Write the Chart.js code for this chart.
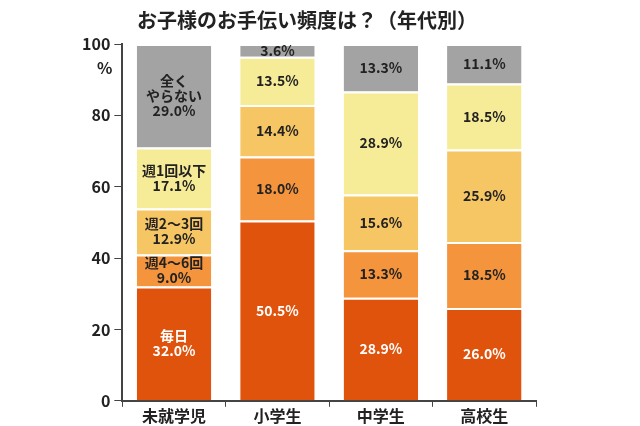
<!DOCTYPE html>
<html><head><meta charset="utf-8">
<script src="https://cdn.jsdelivr.net/npm/chart.js@4"></script>
<style>body{margin:0;background:#fff}#w{width:640px;height:426px}</style>
</head><body><div id="w"><canvas id="c"></canvas></div>
<script>
const categories = ['未就学児','小学生','中学生','高校生'];
const seriesNames = ['毎日','週4～6回','週2～3回','週1回以下','全く\nやらない'];
const daily = [32.0,50.5,28.9,26.0];
const w46 = [9.0,18.0,13.3,18.5];
const w23 = [12.9,14.4,15.6,25.9];
const w1 = [17.1,13.5,28.9,18.5];
const never = [29.0,3.6,13.3,11.1];
const yTicks = [0,20,40,60,80,100];
const colors = ['#e0530c','#f4943c','#f7c664','#f6ec98','#a3a3a3'];
const textColors = ['#fff','#222','#222','#222','#222'];
const values = [daily,w46,w23,w1,never];
const FONT = '"Noto Sans CJK JP", sans-serif';

const labelPlugin = {
  id:'lbl',
  afterDatasetsDraw(chart){
    const ctx = chart.ctx;
    ctx.save();
    ctx.textAlign='center'; ctx.textBaseline='middle';
    ctx.font = 'bold 14px '+FONT;
    chart.data.datasets.forEach((ds,di)=>{
      const meta = chart.getDatasetMeta(di);
      meta.data.forEach((bar,i)=>{
        const v = ds.data[i];
        const y = (bar.y+bar.base)/2;
        const lines = (i===0 ? seriesNames[di].split('\n') : []).concat([v.toFixed(1)+'%']);
        ctx.fillStyle = textColors[di];
        const lh = 15;
        lines.forEach((t,k)=>ctx.fillText(t, bar.x, y + (k-(lines.length-1)/2)*lh));
      });
    });
    const ys = chart.scales.y;
    ctx.fillStyle='#222'; ctx.font='bold 16px '+FONT; ctx.textAlign='right';
    ctx.fillText('%', ys.right-10, ys.getPixelForValue(100)+24);
    ctx.restore();
  }
};

new Chart(document.getElementById('c'),{
  type:'bar',
  data:{labels:categories,datasets:values.map((d,i)=>({label:seriesNames[i],data:d,backgroundColor:colors[i],borderColor:'#fff',borderWidth:{top:2},borderSkipped:'bottom',barPercentage:0.72,categoryPercentage:1}))},
  options:{
    responsive:true,maintainAspectRatio:false,animation:false,
    layout:{padding:{left:78,right:104,top:8,bottom:0}},
    plugins:{legend:{display:false},tooltip:{enabled:false},
      title:{display:true,text:'お子様のお手伝い頻度は？（年代別）',color:'#222',font:{family:FONT,size:20,weight:'bold'},padding:{top:0,bottom:12}}},
    scales:{
      x:{stacked:true,grid:{display:true,drawOnChartArea:false,offset:true,color:'#444',tickLength:6},border:{color:'#444',width:2},
        ticks:{color:'#222',font:{family:FONT,size:16,weight:'bold'},padding:0}},
      y:{stacked:true,min:0,max:100,afterBuildTicks(s){s.ticks=yTicks.map(v=>({value:v}));},
        grid:{drawOnChartArea:false,color:'#444',tickLength:8},border:{color:'#444',width:2},
        ticks:{color:'#222',font:{family:FONT,size:16,weight:'bold'},padding:4}}
    }
  },
  plugins:[labelPlugin]
});
</script></body></html>
